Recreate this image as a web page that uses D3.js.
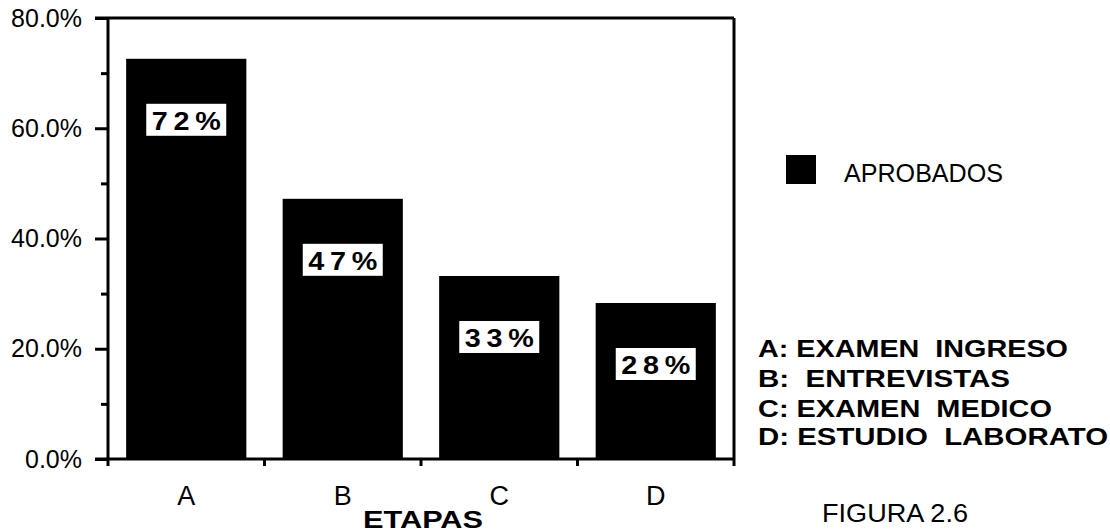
<!DOCTYPE html>
<html>
<head>
<meta charset="utf-8">
<script src="https://cdn.jsdelivr.net/npm/d3@7"></script>
<style>
  html, body { margin: 0; padding: 0; background: #fff; }
  svg { display: block; }
  text { font-family: "Liberation Sans", Arial, Helvetica, sans-serif; fill: #000; }
</style>
</head>
<body>
<svg id="chart" width="1110" height="532"></svg>
<script>
// ---- data ----
const categories = ["A", "B", "C", "D"];
const values = [72.6, 47.2, 33.2, 28.3];
const valueLabels = ["72%", "47%", "33%", "28%"];
const yTicks = [0, 20, 40, 60, 80];
const yMinorTicks = [10, 30, 50, 70];
const seriesName = "APROBADOS";
const stageNotes = ["A: EXAMEN  INGRESO", "B:  ENTREVISTAS", "C: EXAMEN  MEDICO", "D: ESTUDIO  LABORATO"];
const xTitle = "ETAPAS";
const figureCaption = "FIGURA 2.6";

// ---- layout ----
const svg = d3.select("#chart");
const plotLeft = 108, plotRight = 734, plotTop = 18, plotBottom = 459;

const y = d3.scaleLinear().domain([0, 80]).range([plotBottom, plotTop]);
const x = d3.scaleBand().domain(categories).range([plotLeft, plotRight])
  .paddingInner(0.232).paddingOuter(0.116);

// bars
svg.append("g").selectAll("rect")
  .data(values)
  .join("rect")
  .attr("x", (d, i) => x(categories[i]))
  .attr("width", x.bandwidth())
  .attr("y", d => y(d))
  .attr("height", d => y(0) - y(d))
  .attr("fill", "#000");

// y axis (major)
const yAxis = d3.axisLeft(y).tickValues(yTicks).tickSize(13).tickPadding(13)
  .tickFormat(d => d.toFixed(1) + "%");
const gy = svg.append("g").attr("transform", `translate(${plotLeft},0)`).call(yAxis);
gy.select(".domain").remove();
gy.selectAll(".tick line").attr("stroke", "#000").attr("stroke-width", 3);
gy.selectAll(".tick text").attr("font-size", 25).attr("font-family", "Liberation Sans, Arial, sans-serif");

// y axis (minor)
const yMinor = d3.axisLeft(y).tickValues(yMinorTicks).tickSize(7).tickFormat("");
const gym = svg.append("g").attr("transform", `translate(${plotLeft},0)`).call(yMinor);
gym.select(".domain").remove();
gym.selectAll(".tick line").attr("stroke", "#000").attr("stroke-width", 3);

// x axis labels
const xAxis = d3.axisBottom(x).tickSize(0).tickPadding(27);
const gx = svg.append("g").attr("transform", `translate(0,${plotBottom})`).call(xAxis);
gx.select(".domain").remove();
gx.selectAll(".tick text").attr("font-size", 27).attr("font-family", "Liberation Sans, Arial, sans-serif");

// boundary ticks between categories
const step = x.step();
const boundaries = categories.slice(0, -1).map(c => x(c) + x.bandwidth() + (step - x.bandwidth()) / 2);
svg.append("g").selectAll("line")
  .data(boundaries)
  .join("line")
  .attr("x1", d => d).attr("x2", d => d)
  .attr("y1", plotBottom).attr("y2", plotBottom + 7)
  .attr("stroke", "#000").attr("stroke-width", 3);

// frame
const frame = svg.append("g").attr("stroke", "#000").attr("stroke-width", 3).attr("fill", "none");
frame.append("line").attr("x1", plotLeft - 13).attr("x2", plotRight).attr("y1", plotTop).attr("y2", plotTop);
frame.append("line").attr("x1", plotRight).attr("x2", plotRight).attr("y1", plotTop).attr("y2", plotBottom + 7);
frame.append("line").attr("x1", plotLeft - 13).attr("x2", plotRight).attr("y1", plotBottom).attr("y2", plotBottom);
frame.append("line").attr("x1", plotLeft).attr("x2", plotLeft).attr("y1", plotTop).attr("y2", plotBottom + 7);

// value label boxes
const lab = svg.append("g").selectAll("g")
  .data(values)
  .join("g")
  .attr("transform", (d, i) => `translate(${x(categories[i]) + x.bandwidth() / 2},${y(d) + 45})`);
lab.append("rect")
  .attr("x", -40).attr("y", 0).attr("width", 80).attr("height", 32)
  .attr("fill", "#fff");
lab.append("text")
  .attr("text-anchor", "middle")
  .attr("transform", "translate(0,26) scale(1.15,1)")
  .attr("font-size", 25).attr("font-weight", "bold")
  .attr("textLength", 60).attr("lengthAdjust", "spacing")
  .text((d, i) => valueLabels[i]);

// x title
svg.append("text")
  .attr("x", 423).attr("y", 528)
  .attr("text-anchor", "middle")
  .attr("font-size", 24).attr("font-weight", "bold")
  .attr("textLength", 120).attr("lengthAdjust", "spacingAndGlyphs")
  .text(xTitle);

// legend
svg.append("rect").attr("x", 786).attr("y", 155).attr("width", 30).attr("height", 29).attr("fill", "#000");
svg.append("text").attr("x", 844).attr("y", 182).attr("font-size", 26)
  .attr("textLength", 159).attr("lengthAdjust", "spacingAndGlyphs")
  .text(seriesName);

// stage notes
const noteWidths = [310, 252, 294, 350];
const noteBaselines = [357, 387, 417, 445];
svg.append("g").selectAll("text")
  .data(stageNotes)
  .join("text")
  .attr("x", 758)
  .attr("y", (d, i) => noteBaselines[i])
  .attr("font-size", 23).attr("font-weight", "bold")
  .attr("textLength", (d, i) => noteWidths[i]).attr("lengthAdjust", "spacingAndGlyphs")
  .style("white-space", "pre")
  .text(d => d);

// caption
svg.append("text").attr("x", 822).attr("y", 522).attr("font-size", 25)
  .attr("textLength", 146).attr("lengthAdjust", "spacingAndGlyphs")
  .text(figureCaption);
</script>
</body>
</html>
